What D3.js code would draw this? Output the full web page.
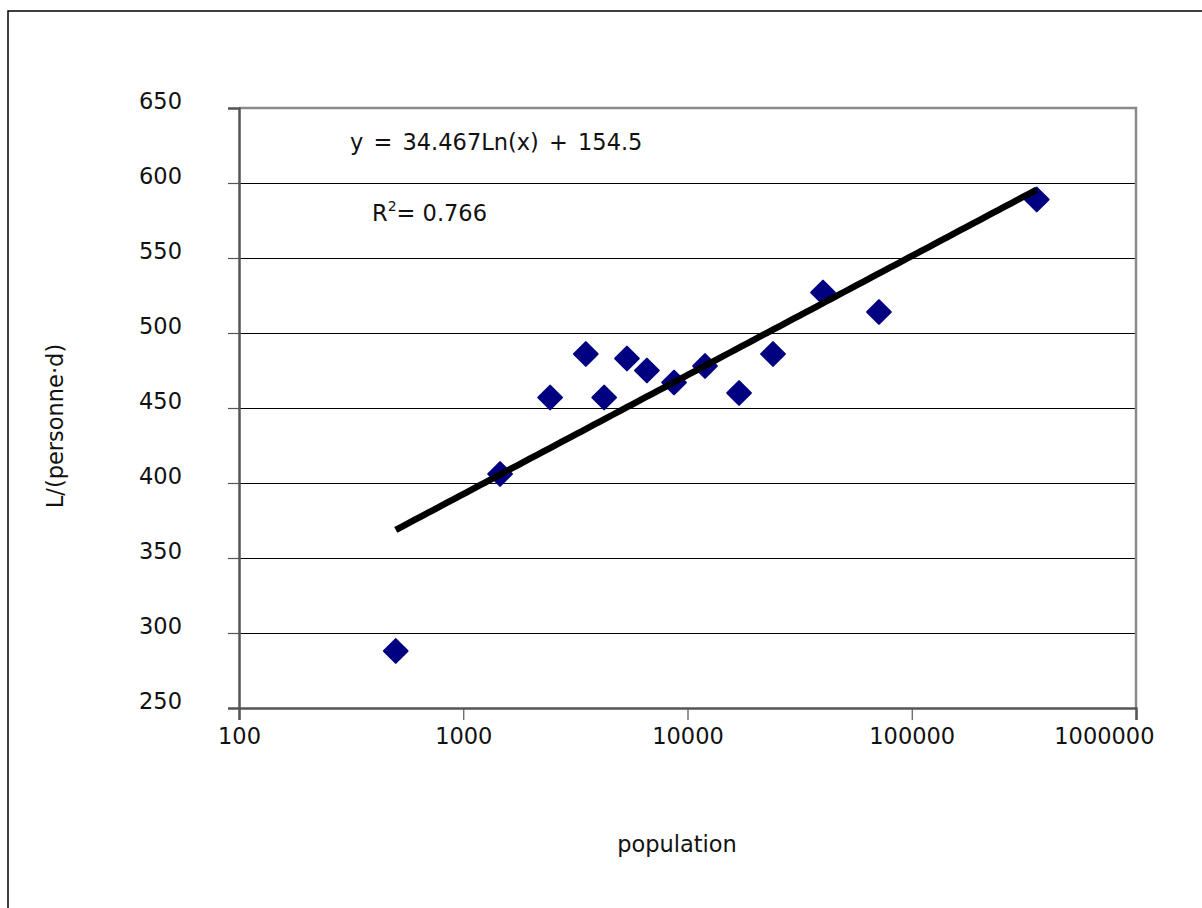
<!DOCTYPE html>
<html>
<head>
<meta charset="utf-8">
<script src="https://cdn.jsdelivr.net/npm/d3@7"></script>
<style>
  html, body { margin: 0; padding: 0; background: #fff; }
  svg { display: block; }
  text { font-family: "DejaVu Sans", Verdana, sans-serif; fill: #111; }
</style>
</head>
<body>
<svg id="chart" width="1202" height="908"></svg>
<script>
// ---- data ----
const population = [500, 1460, 2440, 3520, 4250, 5370, 6590, 8710, 11970, 16980, 24060, 40200, 71400, 361000];
const consumption = [288, 406, 457, 486, 457, 483, 475, 467, 478, 460, 486, 527, 514, 589];
const yTicks = [250, 300, 350, 400, 450, 500, 550, 600, 650];
const xTicks = [100, 1000, 10000, 100000, 1000000];
const trendSlope = 34.467;
const trendIntercept = 154.5;
const equationText = "y = 34.467Ln(x) + 154.5";
const r2Value = "0.766";
const xTitle = "population";
const yTitle = "L/(personne·d)";

// ---- layout ----
const FS = 22.5;
const svg = d3.select("#chart");
const plot = { left: 239, top: 108, right: 1136, bottom: 708 };

const x = d3.scaleLog().domain([100, 1000000]).range([plot.left, plot.right]);
const y = d3.scaleLinear().domain([250, 650]).range([plot.bottom, plot.top]);

// outer chart frame (extends beyond the visible window on right/bottom)
svg.append("rect")
  .attr("x", 8).attr("y", 11).attr("width", 1400).attr("height", 1200)
  .attr("fill", "none").attr("stroke", "#000").attr("stroke-width", 1.5);

// gridlines
svg.append("g")
  .selectAll("line")
  .data(yTicks.filter(v => v > 250 && v < 650))
  .join("line")
  .attr("x1", plot.left).attr("x2", plot.right)
  .attr("y1", d => Math.round(y(d)) + 0.5).attr("y2", d => Math.round(y(d)) + 0.5)
  .attr("stroke", "#000").attr("stroke-width", 1);

// top and right plot border (gray)
svg.append("path")
  .attr("d", `M${plot.left},${plot.top}H${plot.right}V${plot.bottom}`)
  .attr("fill", "none").attr("stroke", "#8a8a8a").attr("stroke-width", 2.5);

// y axis
const yAxis = d3.axisLeft(y).tickValues(yTicks).tickSize(11).tickPadding(46).tickFormat(d3.format("d"));
const gy = svg.append("g").attr("transform", `translate(${plot.left},0)`).call(yAxis);
gy.select(".domain").attr("stroke", "#555").attr("stroke-width", 2.5);
gy.selectAll(".tick line").attr("stroke", "#555").attr("stroke-width", 1.2);
gy.selectAll(".tick text")
  .attr("font-size", FS).attr("dy", 0).attr("fill", "#111")
  .style("font-family", "'DejaVu Sans', Verdana, sans-serif");

// x axis
const xAxis = d3.axisBottom(x).tickValues(xTicks).tickSize(12).tickPadding(8).tickFormat(d3.format("d"));
const gx = svg.append("g").attr("transform", `translate(0,${plot.bottom})`).call(xAxis);
gx.select(".domain").attr("stroke", "#555").attr("stroke-width", 2.5);
gx.selectAll(".tick line").attr("stroke", "#555").attr("stroke-width", 1.2);
gx.selectAll(".tick text")
  .attr("font-size", FS).attr("dy", "0.71em").attr("fill", "#111")
  .style("font-family", "'DejaVu Sans', Verdana, sans-serif");
// last label is kept inside the chart, right-aligned just past its tick
gx.selectAll(".tick text").filter(d => d === xTicks[xTicks.length - 1])
  .attr("text-anchor", "end").attr("x", 18);

// data markers (diamonds)
const diamond = d3.symbol().type(d3.symbolSquare).size(280);
svg.append("g")
  .selectAll("path")
  .data(population.map((p, i) => ({ p, c: consumption[i] })))
  .join("path")
  .attr("d", diamond)
  .attr("transform", d => `translate(${x(d.p)},${y(d.c)}) rotate(45)`)
  .attr("fill", "#000080").attr("stroke", "#000080")
  .attr("stroke-width", 2).attr("stroke-linejoin", "round");

// logarithmic trendline over the data extent
const [xmin, xmax] = d3.extent(population);
const trendX = d3.range(0, 101).map(i => xmin * Math.pow(xmax / xmin, i / 100));
const trendLine = d3.line()
  .x(d => x(d))
  .y(d => y(trendSlope * Math.log(d) + trendIntercept));
svg.append("path")
  .datum(trendX)
  .attr("d", trendLine)
  .attr("fill", "none").attr("stroke", "#000").attr("stroke-width", 6.5)
  .attr("stroke-linecap", "butt").attr("stroke-linejoin", "round");

// equation label
svg.append("text")
  .attr("x", 350).attr("y", 150)
  .attr("font-size", FS)
  .attr("word-spacing", 3)
  .text(equationText);

const r2 = svg.append("text").attr("x", 372).attr("y", 221).attr("font-size", FS);
r2.append("tspan").text("R");
r2.append("tspan").attr("font-size", 14).attr("dy", -10).text("2");
r2.append("tspan").attr("dy", 10).text("= " + r2Value);

// axis titles
svg.append("text")
  .attr("x", 677).attr("y", 852)
  .attr("text-anchor", "middle").attr("font-size", FS)
  .text(xTitle);

svg.append("text")
  .attr("transform", "translate(63,426) rotate(-90)")
  .attr("text-anchor", "middle").attr("font-size", FS)
  .text(yTitle);
</script>
</body>
</html>
